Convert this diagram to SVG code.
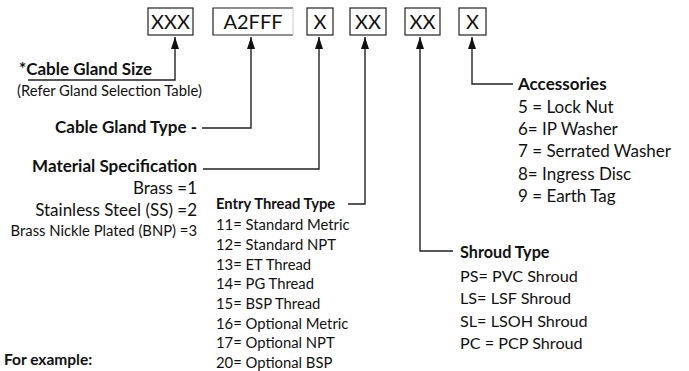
<svg xmlns="http://www.w3.org/2000/svg" width="689" height="371" viewBox="0 0 689 371">
<style>
text{font-family:Lato,"Open Sans","Liberation Sans",sans-serif;fill:#111}
.box{fill:#fff;stroke:#222;stroke-width:1.2}
.bt{font-size:20px;text-anchor:middle}
.b{font-weight:bold}
.r{font-size:17px}
.m{font-size:16.2px}
.s{font-size:14.8px}
.c{fill:none;stroke:#222;stroke-width:1.4}
</style>
<defs>
<marker id="a" viewBox="0 0 12 8" refX="12" refY="4" markerWidth="12" markerHeight="8.5" markerUnits="userSpaceOnUse" orient="auto">
<path d="M0,0 L12,4 L0,8 z" fill="#111"/>
</marker>
</defs>
<g id="box-size"><rect class="box" x="148" y="8" width="45" height="27"/><text class="bt" x="170.5" y="29">XXX</text></g>
<g id="box-type"><path d="M293,8 H213 V35 H293" fill="#fff" stroke="#222" stroke-width="1.2"/><path d="M293,8 V35" stroke="#ccc" stroke-width="1"/><text class="bt" x="253" y="29">A2FFF</text></g>
<g id="box-material"><rect class="box" x="307" y="8" width="26" height="27"/><text class="bt" x="320" y="29">X</text></g>
<g id="box-thread"><rect class="box" x="350" y="8" width="36" height="27"/><text class="bt" x="368" y="29">XX</text></g>
<g id="box-shroud"><rect class="box" x="405" y="8" width="35" height="27"/><text class="bt" x="422.5" y="29">XX</text></g>
<g id="box-acc"><rect class="box" x="459" y="8" width="27" height="27"/><text class="bt" x="472.5" y="29">X</text></g>
<g id="connectors">
<path class="c" d="M28,80 H175 V37" marker-end="url(#a)"/>
<path class="c" d="M202,128 H251 V37" marker-end="url(#a)"/>
<path class="c" d="M203,169 H319 V37" marker-end="url(#a)"/>
<path class="c" d="M348,204 H365 V37" marker-end="url(#a)"/>
<path class="c" d="M453,251 H420 V37" marker-end="url(#a)"/>
<path class="c" d="M513,84 H472 V37" marker-end="url(#a)"/>
</g>
<g id="label-size">
<text class="r b" x="19" y="75">*Cable Gland Size</text>
<text class="s" x="17" y="96">(Refer Gland Selection Table)</text>
</g>
<g id="label-type">
<text class="r b" x="197" y="133" text-anchor="end">Cable Gland Type -</text>
</g>
<g id="label-material">
<text class="r b" x="197" y="172" text-anchor="end">Material Specification</text>
<text class="r" x="197" y="194" text-anchor="end">Brass =1</text>
<text class="r" x="197" y="216" text-anchor="end">Stainless Steel (SS) =2</text>
<text class="s" x="197" y="236" text-anchor="end">Brass Nickle Plated (BNP)  =3</text>
</g>
<g id="label-thread">
<text class="s b" x="216" y="209">Entry Thread Type</text>
<text class="s" x="216" y="230">11= Standard Metric</text>
<text class="s" x="216" y="250">12= Standard NPT</text>
<text class="s" x="216" y="270">13= ET Thread</text>
<text class="s" x="216" y="289">14= PG Thread</text>
<text class="s" x="216" y="309">15= BSP Thread</text>
<text class="s" x="216" y="329">16= Optional Metric</text>
<text class="s" x="216" y="348">17= Optional NPT</text>
<text class="s" x="216" y="368">20= Optional BSP</text>
</g>
<g id="label-shroud">
<text class="m b" x="460" y="258">Shroud Type</text>
<text class="m" x="460" y="282">PS= PVC Shroud</text>
<text class="m" x="460" y="304">LS= LSF Shroud</text>
<text class="m" x="460" y="327">SL= LSOH Shroud</text>
<text class="m" x="460" y="349">PC = PCP Shroud</text>
</g>
<g id="label-acc">
<text class="r b" x="518" y="90">Accessories</text>
<text class="r" x="518" y="113">5 = Lock Nut</text>
<text class="r" x="518" y="135">6= IP Washer</text>
<text class="r" x="518" y="157">7 = Serrated Washer</text>
<text class="r" x="518" y="180">8= Ingress Disc</text>
<text class="r" x="518" y="202">9 = Earth Tag</text>
</g>
<g id="label-example">
<text class="b" x="4" y="365" font-size="15.5px">For example:</text>
</g>
</svg>
